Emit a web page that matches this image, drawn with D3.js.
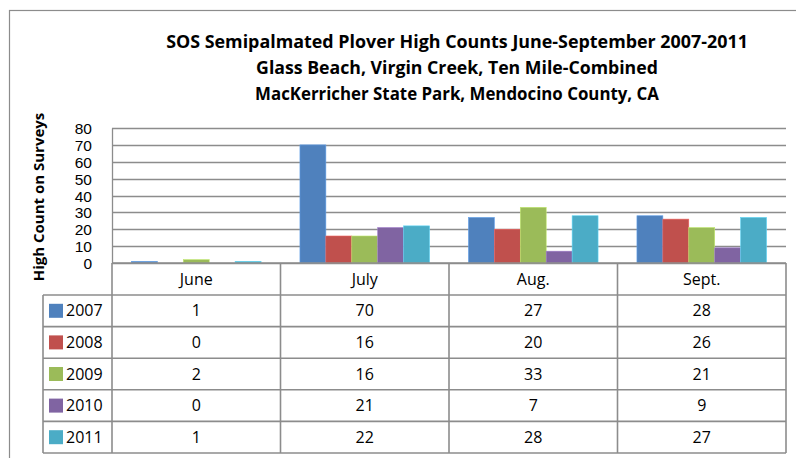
<!DOCTYPE html>
<html>
<head>
<meta charset="utf-8">
<script src="https://cdn.jsdelivr.net/npm/d3@7"></script>
<style>
  body { margin: 0; background: #fff; }
  svg text { font-family: "Open Sans", "Noto Sans", sans-serif; fill: #000; }
  .title { font-weight: bold; font-size: 18px; }
  .ylabel { font-weight: bold; font-size: 15px; }
  .cell { font-size: 16px; }
</style>
</head>
<body>
<div id="chart"></div>
<script>
// chart data
const months = ["June", "July", "Aug.", "Sept."];
const years = ["2007", "2008", "2009", "2010", "2011"];
const colors = ["#4F81BD", "#C0504D", "#9BBB59", "#8064A2", "#4BACC6"];
const counts = {
  "2007": [1, 70, 27, 28],
  "2008": [0, 16, 20, 26],
  "2009": [2, 16, 33, 21],
  "2010": [0, 21, 7, 9],
  "2011": [1, 22, 28, 27]
};
const yTicks = [0, 10, 20, 30, 40, 50, 60, 70, 80];
const titleLines = [
  "SOS Semipalmated Plover High Counts June-September 2007-2011",
  "Glass Beach, Virgin Creek, Ten Mile-Combined",
  "MacKerricher State Park, Mendocino County, CA"
];

const w = 796, h = 458;
const plotL = 112, plotR = 786, plotT = 128, plotB = 263;
const catRowH = 32, rowH = 31.6, legendL = 43;
const lineCol = "#8c8c8c";

const svg = d3.select("#chart").append("svg")
  .attr("width", w).attr("height", h);

// outer chart frame (runs past the picture edge)
svg.append("rect")
  .attr("x", 9.5).attr("y", 10.5)
  .attr("width", 820).attr("height", 480)
  .attr("fill", "none").attr("stroke", lineCol).attr("stroke-width", 1.2);

// title
svg.selectAll(".title").data(titleLines).enter()
  .append("text")
  .attr("class", "title")
  .attr("x", 457)
  .attr("y", (d, i) => 48 + i * 26)
  .attr("text-anchor", "middle")
  .text(d => d)
  .each(function(d, i) {
    const target = [582, 402, 404][i];
    const len = this.getComputedTextLength();
    d3.select(this).style("font-size", (18 * target / len) + "px");
  });

const x0 = d3.scaleBand().domain(months).range([plotL, plotR]);
const x1 = d3.scaleBand().domain(years).range([0, x0.bandwidth()])
  .paddingInner(0).paddingOuter(0.75);
const y = d3.scaleLinear().domain([0, 80]).range([plotB, plotT]);

// gridlines
svg.append("g").selectAll("line").data(yTicks).enter()
  .append("line")
  .attr("x1", plotL).attr("x2", plotR)
  .attr("y1", d => Math.round(y(d)) + 0.5).attr("y2", d => Math.round(y(d)) + 0.5)
  .attr("stroke", lineCol).attr("stroke-width", 1.3);

// value axis
const yAxis = d3.axisLeft(y).tickValues(yTicks).tickSize(0).tickPadding(20);
const ya = svg.append("g")
  .attr("transform", "translate(" + plotL + ",0)")
  .call(yAxis);
ya.select(".domain").attr("stroke", lineCol).attr("stroke-width", 1.3);
ya.selectAll("text").attr("dy", "0.36em")
  .style("font-family", "'Liberation Sans', Arial, sans-serif")
  .style("font-size", "15.5px");

svg.append("text")
  .attr("class", "ylabel")
  .attr("transform", "translate(44," + 197 + ") rotate(-90)")
  .attr("text-anchor", "middle")
  .text("High Count on Surveys");

// bars
const groups = svg.append("g").selectAll("g").data(months).enter()
  .append("g")
  .attr("transform", d => "translate(" + x0(d) + ",0)");
groups.selectAll("rect")
  .data((m, mi) => years.map((yr, yi) => ({ yr: yr, v: counts[yr][mi], c: colors[yi] })))
  .enter().append("rect")
  .attr("x", d => x1(d.yr))
  .attr("y", d => y(d.v))
  .attr("width", x1.bandwidth())
  .attr("height", d => plotB - y(d.v))
  .attr("fill", d => d.c)
  .attr("stroke", d => d3.color(d.c).brighter(0.6))
  .attr("stroke-width", 0.6);

// data table
const tableTop = plotB + catRowH;
const tableBot = tableTop + rowH * years.length;
const grid = svg.append("g")
  .attr("stroke", lineCol).attr("stroke-width", 1.6).attr("fill", "none");

// vertical lines of month columns
grid.selectAll(".v").data(months.map(m => x0(m)).concat([plotR])).enter()
  .append("line")
  .attr("x1", d => d).attr("x2", d => d)
  .attr("y1", plotB).attr("y2", tableBot);
// horizontal lines
grid.append("line").attr("x1", plotL).attr("x2", plotR).attr("y1", plotB).attr("y2", plotB);
grid.selectAll(".hr").data(d3.range(years.length + 1)).enter()
  .append("line")
  .attr("x1", legendL).attr("x2", plotR)
  .attr("y1", i => tableTop + i * rowH).attr("y2", i => tableTop + i * rowH);
grid.append("line").attr("x1", legendL).attr("x2", legendL)
  .attr("y1", tableTop).attr("y2", tableBot);

// month labels
svg.selectAll(".mlab").data(months).enter()
  .append("text")
  .attr("class", "cell")
  .attr("x", d => x0(d) + x0.bandwidth() / 2)
  .attr("y", plotB + catRowH / 2)
  .attr("dy", "0.35em")
  .attr("text-anchor", "middle")
  .text(d => d);

// legend keys + values
years.forEach((yr, yi) => {
  const cy = tableTop + yi * rowH + rowH / 2;
  svg.append("rect")
    .attr("x", 49).attr("y", cy - 7)
    .attr("width", 14).attr("height", 14)
    .attr("fill", colors[yi]);
  svg.append("text")
    .attr("class", "cell")
    .attr("x", 66).attr("y", cy)
    .attr("dy", "0.35em")
    .text(yr);
  svg.selectAll(".v" + yr).data(counts[yr]).enter()
    .append("text")
    .attr("class", "cell")
    .attr("x", (d, mi) => x0(months[mi]) + x0.bandwidth() / 2)
    .attr("y", cy)
    .attr("dy", "0.35em")
    .attr("text-anchor", "middle")
    .text(d => d);
});
</script>
</body>
</html>
